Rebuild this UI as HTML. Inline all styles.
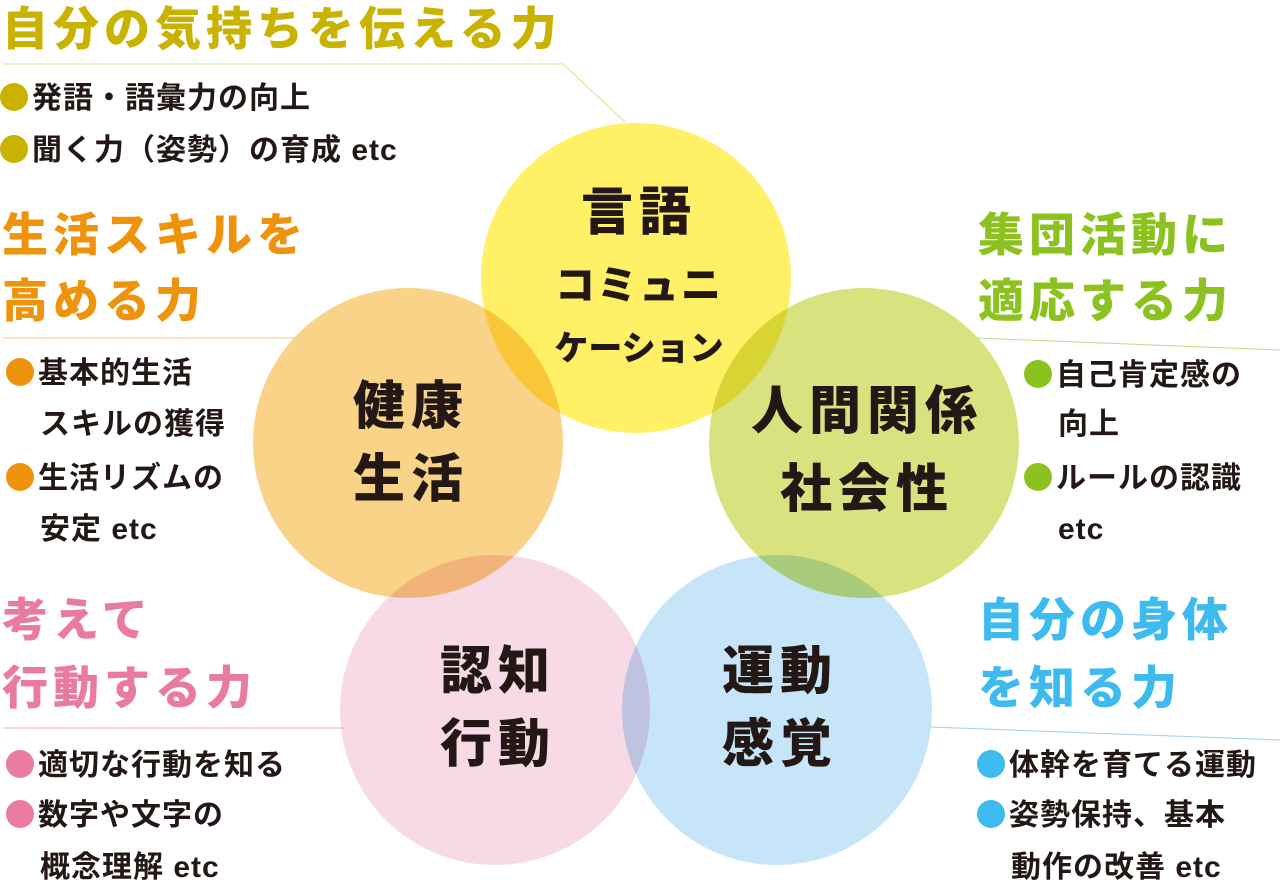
<!DOCTYPE html>
<html><head><meta charset="utf-8"><style>
body{margin:0;width:1280px;height:884px;background:#fff;position:relative;overflow:hidden;font-family:"Liberation Sans","Noto Sans CJK JP",sans-serif;font-weight:bold}
.t{position:absolute;white-space:nowrap;line-height:1}
.h{font-size:46px;letter-spacing:5px;font-weight:900}
.b{font-size:30px;color:#231815;letter-spacing:1px}
.c{font-size:52px;color:#231815;letter-spacing:6px;text-align:center;font-weight:900}
.d{display:inline-block;width:28px;height:28px;border-radius:50%;vertical-align:-3px;margin-right:4px}
</style></head><body>
<svg width="1280" height="884" style="position:absolute;left:0;top:0">
<circle cx="636" cy="278" r="155" fill="#fff066" style="mix-blend-mode:multiply"/>
<circle cx="408" cy="443" r="155" fill="#f9d388" style="mix-blend-mode:multiply"/>
<circle cx="864" cy="443" r="155" fill="#d8e27f" style="mix-blend-mode:multiply"/>
<circle cx="495" cy="710" r="155" fill="#f8d9e6" style="mix-blend-mode:multiply"/>
<circle cx="777" cy="710" r="155" fill="#c6e5f8" style="mix-blend-mode:multiply"/>
<polyline points="3,64 563,64 625,122" fill="none" stroke="#e8dc8c" stroke-width="1"/>
<line x1="3" y1="338" x2="300" y2="338" stroke="#f7c98a" stroke-width="1"/>
<line x1="975" y1="338" x2="1280" y2="350" stroke="#c0da80" stroke-width="1"/>
<line x1="3" y1="728" x2="345" y2="728" stroke="#e8b5c8" stroke-width="1"/>
<line x1="930" y1="727" x2="1280" y2="740" stroke="#9ad0ee" stroke-width="1"/>
</svg>
<div class="t h" style="left:2px;top:6px;color:#c9b200">自分の気持ちを伝える力</div>
<div class="t b" style="left:0;top:83px"><span style="background:#c9b200" class="d"></span>発語・語彙力の向上</div>
<div class="t b" style="left:0;top:135px"><span style="background:#c9b200" class="d"></span>聞く力（姿勢）の育成 etc</div>

<div class="t h" style="left:2px;top:212px;color:#f0930c">生活スキルを</div>
<div class="t h" style="left:2px;top:278px;color:#f0930c">高める力</div>
<div class="t b" style="left:6px;top:358px"><span style="background:#f0930c" class="d"></span>基本的生活</div>
<div class="t b" style="left:40px;top:410px">スキルの獲得</div>
<div class="t b" style="left:6px;top:463px"><span style="background:#f0930c" class="d"></span>生活リズムの</div>
<div class="t b" style="left:40px;top:515px">安定 etc</div>

<div class="t h" style="left:978px;top:212px;color:#8cc21f">集団活動に</div>
<div class="t h" style="left:978px;top:278px;color:#8cc21f">適応する力</div>
<div class="t b" style="left:1024px;top:360px"><span style="background:#8cc21f" class="d"></span>自己肯定感の</div>
<div class="t b" style="left:1058px;top:410px">向上</div>
<div class="t b" style="left:1024px;top:463px"><span style="background:#8cc21f" class="d"></span>ルールの認識</div>
<div class="t b" style="left:1058px;top:515px">etc</div>

<div class="t h" style="left:2px;top:597px;color:#ea7ba0">考えて</div>
<div class="t h" style="left:2px;top:665px;color:#ea7ba0">行動する力</div>
<div class="t b" style="left:6px;top:750px"><span style="background:#ea7ba0" class="d"></span>適切な行動を知る</div>
<div class="t b" style="left:6px;top:800px"><span style="background:#ea7ba0" class="d"></span>数字や文字の</div>
<div class="t b" style="left:40px;top:853px">概念理解 etc</div>

<div class="t h" style="left:978px;top:597px;color:#3dbbee">自分の身体</div>
<div class="t h" style="left:978px;top:665px;color:#3dbbee">を知る力</div>
<div class="t b" style="left:977px;top:750px"><span style="background:#3dbbee" class="d"></span>体幹を育てる運動</div>
<div class="t b" style="left:977px;top:800px"><span style="background:#3dbbee" class="d"></span>姿勢保持、基本</div>
<div class="t b" style="left:1011px;top:853px">動作の改善 etc</div>

<div class="t c" style="left:536px;width:206px;top:187px">言語</div>
<div class="t c" style="left:536px;width:206px;top:266px;font-size:40px;letter-spacing:2px">コミュニ</div>
<div class="t c" style="left:536px;width:206px;top:332px;font-size:34px;letter-spacing:0">ケーション</div>
<div class="t c" style="left:308px;width:206px;top:381px">健康</div>
<div class="t c" style="left:308px;width:206px;top:454px">生活</div>
<div class="t c" style="left:734px;width:266px;top:386px">人間関係</div>
<div class="t c" style="left:734px;width:266px;top:464px">社会性</div>
<div class="t c" style="left:395px;width:206px;top:646px">認知</div>
<div class="t c" style="left:395px;width:206px;top:719px">行動</div>
<div class="t c" style="left:677px;width:206px;top:646px">運動</div>
<div class="t c" style="left:677px;width:206px;top:719px">感覚</div>
</body></html>
